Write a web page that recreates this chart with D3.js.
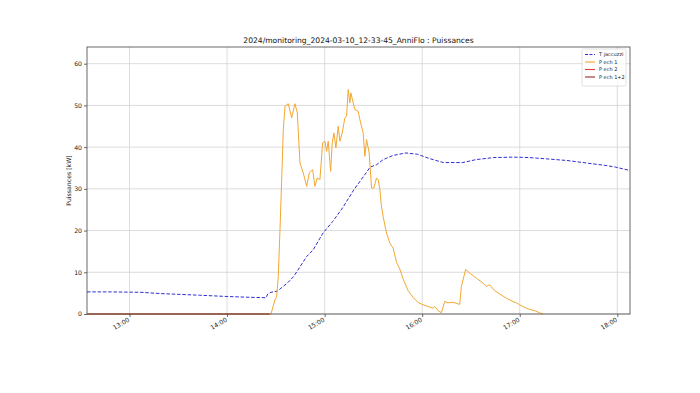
<!DOCTYPE html>
<html><head><meta charset="utf-8">
<script src="https://cdn.jsdelivr.net/npm/d3@7"></script>
<style>body{margin:0;background:#fff}svg{display:block}text{font-family:"DejaVu Sans",sans-serif}</style>
</head><body><svg id="c" width="700" height="393"></svg>
<script>
const title = "2024/monitoring_2024-03-10_12-33-45_AnniFlo : Puissances";
const yLabel = "Puissances [kW]";
const xTicks = ["13:00","14:00","15:00","16:00","17:00","18:00"];
const yTicks = [0,10,20,30,40,50,60];
const seriesNames = ["T jaccuzzi","P ech 1","P ech 2","P ech 1+2"];
const xStart = "12:33:51", xEnd = "18:07:49";
const yMax = 64;

const tJacTimes = ["12:33:51","12:48:00","13:07:00","13:19:00","13:31:00","13:43:00","14:00:00","14:14:00","14:24:00","14:25:00","14:27:00","14:31:00","14:37:00","14:41:00","14:45:00","14:49:00","14:53:00","14:59:00","15:05:00","15:11:00","15:18:00","15:24:00","15:28:00","15:32:00","15:36:00","15:42:00","15:50:00","15:57:00","16:05:00","16:13:00","16:25:00","16:33:00","16:44:00","16:56:00","17:06:00","17:16:00","17:29:00","17:41:00","17:53:00","17:59:00","18:07:49"];
const tJacValues = [5.3,5.3,5.2,4.9,4.7,4.5,4.2,4.0,3.9,4.8,5.2,5.5,7.4,9.0,11.4,13.8,15.4,19.4,22.2,25.4,29.8,33.0,35.2,35.8,37.0,38.0,38.6,38.3,37.2,36.3,36.3,37.0,37.5,37.6,37.5,37.2,36.8,36.2,35.6,35.2,34.4];

const pEch1Times = ["12:33:51","14:27:00","14:29:28","14:30:31","14:31:30","14:32:33","14:33:35","14:34:35","14:35:37","14:37:39","14:39:44","14:41:46","14:43:11","14:44:50","14:46:52","14:48:57","14:50:33","14:52:38","14:54:02","14:55:27","14:57:06","14:58:46","15:00:11","15:01:14","15:02:13","15:03:41","15:04:40","15:05:43","15:06:56","15:08:21","15:09:23","15:10:48","15:12:27","15:13:30","15:14:29","15:15:32","15:16:09","15:17:34","15:18:37","15:20:38","15:21:41","15:23:42","15:24:45","15:25:48","15:27:24","15:28:52","15:30:17","15:31:56","15:32:55","15:33:57","15:34:52","15:35:58","15:38:04","15:40:06","15:42:08","15:44:13","15:46:14","15:48:16","15:51:20","15:54:24","15:57:28","16:00:32","16:03:36","16:06:40","16:07:43","16:09:45","16:11:50","16:13:52","16:15:54","16:18:58","16:23:04","16:24:07","16:26:46","16:29:13","16:33:20","16:37:24","16:39:26","16:41:30","16:44:34","16:47:38","16:51:45","16:55:50","16:57:53","16:59:56","17:04:02","17:07:06","17:09:08","17:12:12","17:14:14"];
const pEch1Values = [0,0,3.4,4.2,9.0,20.2,32.2,44.2,49.8,50.4,47.0,50.4,48.2,36.2,33.8,30.6,33.8,34.6,30.6,32.6,32.2,41.0,41.4,39.0,41.4,34.2,41.0,43.4,39.8,45.0,41.4,43.4,47.0,47.4,53.8,50.6,53.0,50.6,49.0,48.6,46.6,43.4,37.8,41.8,38.6,30.2,30.2,32.6,32.2,30.0,26.0,23.4,19.4,17.0,15.8,12.4,10.8,8.4,5.6,4.0,2.8,2.2,1.8,1.4,1.8,0.8,0.3,3.0,2.7,2.8,2.3,6.6,10.7,9.8,8.6,7.4,6.6,7.0,5.6,4.8,3.8,3.0,2.7,2.2,1.4,1.0,0.8,0.3,0];

const pEch2Times = ["12:33:51","14:26:00"];
const pEch2Values = [0,0];
const pEch12Times = ["12:33:51","14:26:00"];
const pEch12Values = [0,0];

const colors = ["#2f2fd2","#f4a731","#e04040","#9a2a2a"];

const parse = d3.timeParse("%Y-%m-%d %H:%M:%S");
const P = s => parse("2024-03-10 " + (s.length===5 ? s+":00" : s));
const svg = d3.select("#c");
const L=87, R=630, T=47, B=314;
const x = d3.scaleTime().domain([P(xStart),P(xEnd)]).range([L,R]);
const y = d3.scaleLinear().domain([0,yMax]).range([B,T]);

// grid
const g = svg.append("g");
g.selectAll("line.vx").data(xTicks).join("line")
 .attr("x1",d=>x(P(d))).attr("x2",d=>x(P(d))).attr("y1",T).attr("y2",B)
 .attr("stroke","#d3d3d3").attr("stroke-width",0.8);
g.selectAll("line.hy").data(yTicks).join("line")
 .attr("x1",L).attr("x2",R).attr("y1",d=>y(d)).attr("y2",d=>y(d))
 .attr("stroke","#d3d3d3").attr("stroke-width",0.8);

// lines
const mk = (times, vals) => times.map((t,i)=>({t:P(t),v:vals[i]}));
const line = d3.line().x(d=>x(d.t)).y(d=>y(d.v));
svg.append("clipPath").attr("id","cl").append("rect").attr("x",L).attr("y",T).attr("width",R-L).attr("height",B-T+2);
const lg = svg.append("g").attr("clip-path","url(#cl)");
const series = [
  {d:mk(tJacTimes,tJacValues), c:colors[0], dash:"3.5,1.8", w:1.0, o:1},
  {d:mk(pEch1Times,pEch1Values), c:colors[1], dash:null, w:1.0, o:1},
  {d:mk(pEch2Times,pEch2Values), c:colors[2], dash:null, w:1.0, o:0.6},
  {d:mk(pEch12Times,pEch12Values), c:colors[3], dash:null, w:1.0, o:0.6}
];
series.forEach(s=>{
  lg.append("path").datum(s.d).attr("d",line).attr("fill","none")
    .attr("stroke",s.c).attr("stroke-width",s.w).attr("stroke-dasharray",s.dash)
    .attr("stroke-opacity",s.o).attr("stroke-linejoin","round");
});

// spines
svg.append("rect").attr("x",L).attr("y",T).attr("width",R-L).attr("height",B-T)
 .attr("fill","none").attr("stroke","#444").attr("stroke-width",0.8);

// axes
const xa = svg.append("g").attr("transform",`translate(0,${B})`)
 .call(d3.axisBottom(x).tickValues(xTicks.map(P)).tickFormat(d3.timeFormat("%H:%M")).tickSize(3).tickSizeOuter(0));
xa.select(".domain").remove();
xa.selectAll("line").attr("stroke","#444").attr("stroke-width",0.8);
xa.selectAll("text").attr("font-size","6.2px").attr("fill","#222")
 .attr("text-anchor","end").attr("dy",0).attr("y",0)
 .attr("transform","translate(0,7) rotate(-30)");
const ya = svg.append("g").attr("transform",`translate(${L},0)`)
 .call(d3.axisLeft(y).tickValues(yTicks).tickSize(3).tickSizeOuter(0));
ya.select(".domain").remove();
ya.selectAll("line").attr("stroke","#444").attr("stroke-width",0.8);
ya.selectAll("text").attr("font-size","6.2px").attr("fill","#222").attr("x",-5);

svg.append("text").attr("x",(L+R)/2).attr("y",43).attr("text-anchor","middle")
 .attr("font-size","7.6px").attr("fill","#111").text(title);
svg.append("text").attr("transform",`translate(71,${(T+B)/2}) rotate(-90)`).attr("text-anchor","middle")
 .attr("font-size","6.2px").attr("fill","#222").text(yLabel);

// legend
const lgd = svg.append("g").attr("transform","translate(582,49)");
lgd.append("rect").attr("width",44).attr("height",37).attr("rx",1.5).attr("fill","#fff").attr("fill-opacity",0.8)
 .attr("stroke","#ccc").attr("stroke-width",0.6);
seriesNames.forEach((n,i)=>{
  const yy = 5.5 + i*7.5;
  lgd.append("line").attr("x1",3).attr("x2",13).attr("y1",yy).attr("y2",yy)
   .attr("stroke",colors[i]).attr("stroke-width",1.1).attr("stroke-dasharray",i===0?"3,1.5":null);
  lgd.append("text").attr("x",17).attr("y",yy+1.8).attr("font-size","5px").attr("fill","#222").text(n);
});
</script></body></html>
